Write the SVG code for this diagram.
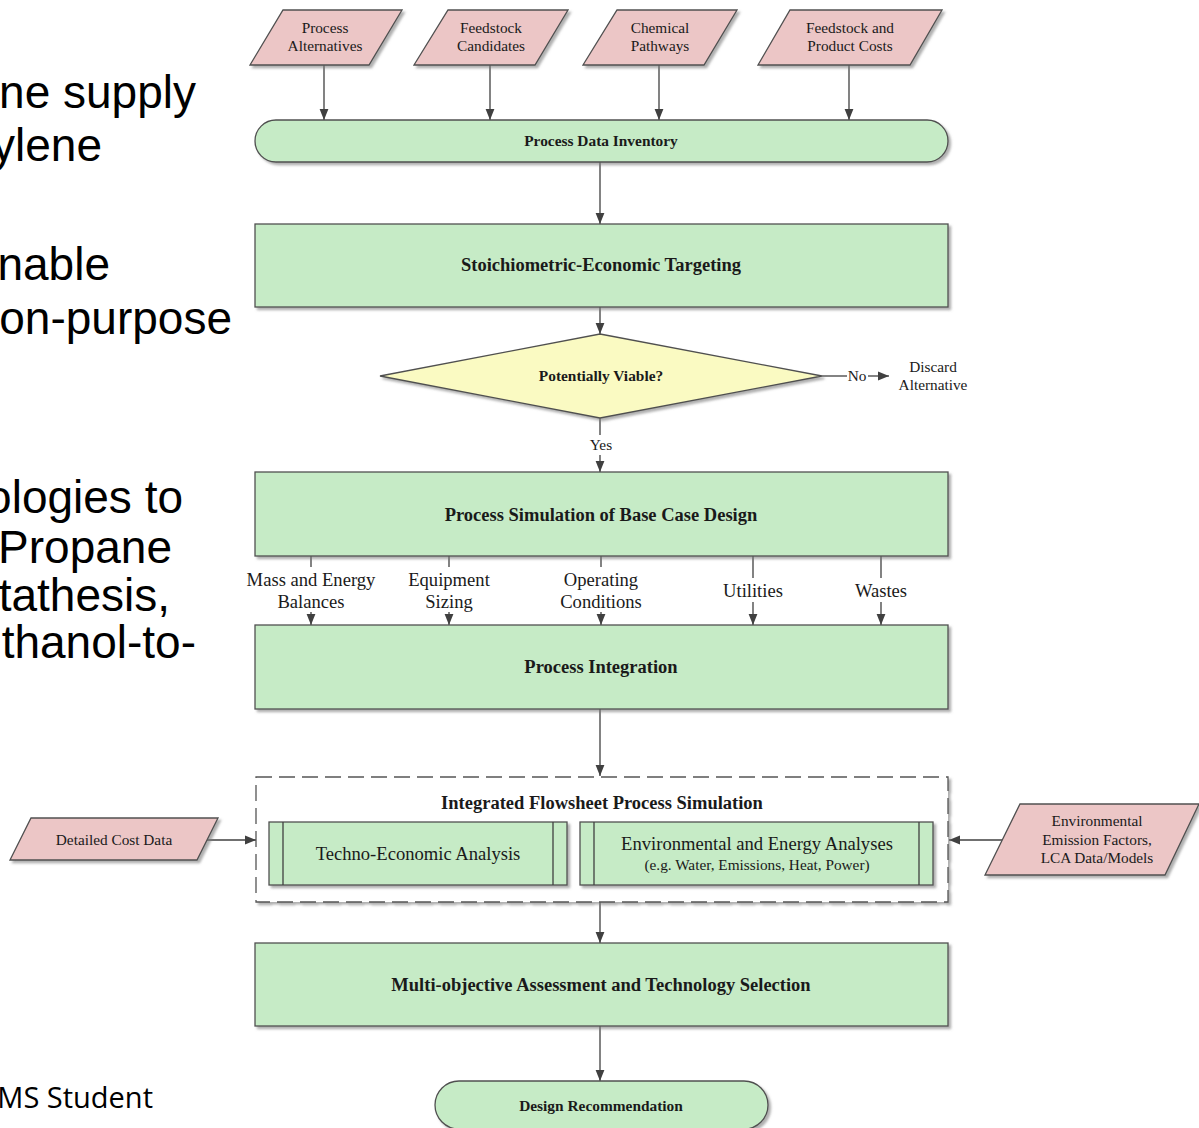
<svg xmlns="http://www.w3.org/2000/svg" width="1199" height="1128" viewBox="0 0 1199 1128">
<defs>
<marker id="arr" viewBox="0 0 10 10" refX="10" refY="5" markerWidth="11" markerHeight="11" markerUnits="userSpaceOnUse" orient="auto">
<path d="M0,1 L10,5 L0,9 Z" fill="#404040"/>
</marker>
<filter id="sh" x="-5%" y="-10%" width="110%" height="130%">
<feDropShadow dx="2.5" dy="2.5" stdDeviation="1.2" flood-color="#7a7a7a" flood-opacity="0.6"/>
</filter>
<style>
.slide{font-family:"Liberation Sans",Arial,sans-serif;font-size:46px;fill:#000;text-anchor:end}
.cal{font-family:"Open Sans","Noto Sans",sans-serif;font-size:29px;fill:#000;text-anchor:end}
.g{fill:#c6ebc6;stroke:#505050;stroke-width:1.3}
.p{fill:#ecc6c6;stroke:#505050;stroke-width:1.3}
.y{fill:#fafac2;stroke:#505050;stroke-width:1.3}
.t{font-family:"Liberation Serif","Times New Roman",serif;fill:#1a1a1a;text-anchor:middle}
.b{font-weight:bold}
.sb1{font-size:15.4px}
.sb2{font-size:18.5px}
.s1{font-size:15.3px}
.s2{font-size:18.6px}
.e{stroke:#404040;stroke-width:1.3;fill:none}
.ea{stroke:#404040;stroke-width:1.3;fill:none;marker-end:url(#arr)}
</style>
</defs>
<rect width="1199" height="1128" fill="#fff"/>

<g id="slide-text">
<text class="slide" x="196" y="108">ne supply</text>
<text class="slide" x="102" y="161">ylene</text>
<text class="slide" x="110" y="280">nable</text>
<text class="slide" x="232" y="334">on-purpose</text>
<text class="slide" x="183" y="513">ologies to</text>
<text class="slide" x="172" y="563">Propane</text>
<text class="slide" x="170" y="611">tathesis,</text>
<text class="slide" x="196" y="658">thanol-to-</text>
<text class="cal" x="153" y="1108">MS Student</text>
</g>

<g id="connectors">
<line class="ea" x1="324" y1="65" x2="324" y2="120"/>
<line class="ea" x1="490" y1="65" x2="490" y2="120"/>
<line class="ea" x1="659" y1="65" x2="659" y2="120"/>
<line class="ea" x1="849" y1="65" x2="849" y2="120"/>
<line class="ea" x1="600" y1="162" x2="600" y2="224"/>
<line class="ea" x1="600" y1="307" x2="600" y2="334"/>
<line class="e" x1="822" y1="376" x2="847" y2="376"/>
<line class="ea" x1="868" y1="376" x2="889" y2="376"/>
<text class="t s1" x="857" y="381">No</text>
<line class="e" x1="600" y1="418" x2="600" y2="435"/>
<text class="t s1" x="601" y="450">Yes</text>
<line class="ea" x1="600" y1="455" x2="600" y2="472"/>

<line class="e" x1="311" y1="556" x2="311" y2="567"/>
<line class="ea" x1="311" y1="612" x2="311" y2="625"/>
<line class="e" x1="449" y1="556" x2="449" y2="567"/>
<line class="ea" x1="449" y1="612" x2="449" y2="625"/>
<line class="e" x1="601" y1="556" x2="601" y2="567"/>
<line class="ea" x1="601" y1="612" x2="601" y2="625"/>
<line class="e" x1="753" y1="556" x2="753" y2="578"/>
<line class="ea" x1="753" y1="602" x2="753" y2="625"/>
<line class="e" x1="881" y1="556" x2="881" y2="578"/>
<line class="ea" x1="881" y1="602" x2="881" y2="625"/>
<g class="t s2">
<text x="311" y="586">Mass and Energy</text>
<text x="311" y="608">Balances</text>
<text x="449" y="586">Equipment</text>
<text x="449" y="608">Sizing</text>
<text x="601" y="586">Operating</text>
<text x="601" y="608">Conditions</text>
<text x="753" y="597">Utilities</text>
<text x="881" y="597">Wastes</text>
</g>

<line class="ea" x1="600" y1="709" x2="600" y2="776"/>
<line class="ea" x1="207" y1="840" x2="256" y2="840"/>
<line class="ea" x1="1002" y1="840" x2="949" y2="840"/>
<line class="ea" x1="600" y1="902" x2="600" y2="943"/>
<line class="ea" x1="600" y1="1026" x2="600" y2="1081"/>
</g>

<g id="in-process-alternatives">
<polygon class="p" filter="url(#sh)" points="283,10 402,10 369,65 250,65"/>
<text class="t s1" x="325" y="33">Process</text>
<text class="t s1" x="325" y="51">Alternatives</text>
</g>
<g id="in-feedstock-candidates">
<polygon class="p" filter="url(#sh)" points="448,10 568,10 535,65 414,65"/>
<text class="t s1" x="491" y="33">Feedstock</text>
<text class="t s1" x="491" y="51">Candidates</text>
</g>
<g id="in-chemical-pathways">
<polygon class="p" filter="url(#sh)" points="617,10 737,10 704,65 583,65"/>
<text class="t s1" x="660" y="33">Chemical</text>
<text class="t s1" x="660" y="51">Pathways</text>
</g>
<g id="in-costs">
<polygon class="p" filter="url(#sh)" points="790,10 942,10 910,65 758,65"/>
<text class="t s1" x="850" y="33">Feedstock and</text>
<text class="t s1" x="850" y="51">Product Costs</text>
</g>

<g id="process-data-inventory">
<rect class="g" filter="url(#sh)" x="255" y="120" width="693" height="42" rx="21"/>
<text class="t b sb1" x="601" y="146">Process Data Inventory</text>
</g>

<g id="stoich-targeting">
<rect class="g" filter="url(#sh)" x="255" y="224" width="693" height="83"/>
<text class="t b sb2" x="601" y="271">Stoichiometric-Economic Targeting</text>
</g>

<g id="viable-decision">
<polygon class="y" filter="url(#sh)" points="600,334 822,376 600,418 380,376"/>
<text class="t b sb1" x="601" y="381">Potentially Viable?</text>
</g>

<g id="discard">
<text class="t s1" x="933" y="372">Discard</text>
<text class="t s1" x="933" y="390">Alternative</text>
</g>

<g id="base-case-sim">
<rect class="g" filter="url(#sh)" x="255" y="472" width="693" height="84"/>
<text class="t b sb2" x="601" y="521">Process Simulation of Base Case Design</text>
</g>

<g id="process-integration">
<rect class="g" filter="url(#sh)" x="255" y="625" width="693" height="84"/>
<text class="t b sb2" x="601" y="673">Process Integration</text>
</g>

<g id="integrated-flowsheet">
<rect x="256" y="777" width="692" height="125" fill="#fff" stroke="#555" stroke-width="1.3" stroke-dasharray="16,7" filter="url(#sh)"/>
<text class="t b sb2" x="602" y="809">Integrated Flowsheet Process Simulation</text>
</g>

<g id="techno-economic">
<rect class="g" filter="url(#sh)" x="269" y="822" width="298" height="63"/>
<line class="e" x1="283" y1="822" x2="283" y2="885"/>
<line class="e" x1="553" y1="822" x2="553" y2="885"/>
<text class="t s2" x="418" y="860">Techno-Economic Analysis</text>
</g>

<g id="env-energy">
<rect class="g" filter="url(#sh)" x="580" y="822" width="353" height="63"/>
<line class="e" x1="594" y1="822" x2="594" y2="885"/>
<line class="e" x1="919" y1="822" x2="919" y2="885"/>
<text class="t s2" x="757" y="850">Environmental and Energy Analyses</text>
<text class="t s1" x="757" y="870">(e.g. Water, Emissions, Heat, Power)</text>
</g>

<g id="detailed-cost-data">
<polygon class="p" filter="url(#sh)" points="31,818 218,818 197,860 10,860"/>
<text class="t s1" x="114" y="845">Detailed Cost Data</text>
</g>

<g id="env-factors">
<polygon class="p" filter="url(#sh)" points="1020,804 1199,804 1165,875 985,875"/>
<text class="t s1" x="1097" y="826">Environmental</text>
<text class="t s1" x="1097" y="845">Emission Factors,</text>
<text class="t s1" x="1097" y="863">LCA Data/Models</text>
</g>

<g id="multi-objective">
<rect class="g" filter="url(#sh)" x="255" y="943" width="693" height="83"/>
<text class="t b sb2" x="601" y="991">Multi-objective Assessment and Technology Selection</text>
</g>

<g id="design-recommendation">
<rect class="g" filter="url(#sh)" x="435" y="1081" width="333" height="48" rx="24"/>
<text class="t b sb1" x="601" y="1111">Design Recommendation</text>
</g>
</svg>
